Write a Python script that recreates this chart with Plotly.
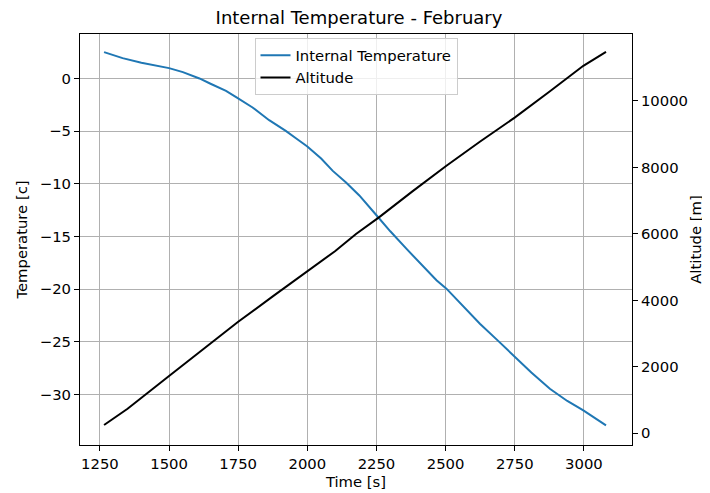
import plotly.graph_objects as go

# Internal temperature readings (time [s], temperature [c])
temp_time = [1265, 1300, 1332, 1400, 1450, 1500, 1550, 1610, 1650, 1706, 1744, 1802,
             1862, 1922, 1960, 2000, 2050, 2092, 2140, 2188, 2250, 2300, 2358, 2410,
             2467, 2503, 2560, 2624, 2690, 2751, 2810, 2877, 2940, 2998, 3040, 3080]
temp_vals = [2.5, 2.2, 1.93, 1.5, 1.25, 0.98, 0.6, 0.0, -0.5, -1.18, -1.8, -2.75,
             -3.96, -4.97, -5.7, -6.46, -7.6, -8.77, -9.87, -11.1, -12.98, -14.5, -16.15, -17.6,
             -19.15, -19.94, -21.5, -23.27, -24.9, -26.43, -27.9, -29.44, -30.6, -31.5, -32.2, -32.92]

# Altitude readings (time [s], altitude [m])
alt_time = [1265, 1350, 1500, 1625, 1750, 1875, 2000, 2100, 2176, 2259, 2380, 2503,
            2625, 2751, 2875, 2998, 3080]
alt_vals = [250, 740, 1724, 2550, 3357, 4120, 4862, 5480, 5996, 6498, 7280, 8051,
            8780, 9507, 10280, 11059, 11480]

x_ticks = [1250, 1500, 1750, 2000, 2250, 2500, 2750, 3000]
y_ticks = [0, -5, -10, -15, -20, -25, -30]
y2_ticks = [0, 2000, 4000, 6000, 8000, 10000]
y2_labels = ["0", "2000", "4000", "6000", "8000", "10000"]

FONT = "DejaVu Sans"
FS = 14.8

fig = go.Figure()
fig.add_trace(go.Scatter(x=temp_time, y=temp_vals, mode="lines", name="Internal Temperature",
                         line=dict(color="#1f77b4", width=2), yaxis="y"))
fig.add_trace(go.Scatter(x=alt_time, y=alt_vals, mode="lines", name="Altitude",
                         line=dict(color="black", width=2), yaxis="y2"))

axis_common = dict(showline=True, linecolor="black", linewidth=1, ticks="outside",
                   ticklen=5, tickcolor="black", tickfont=dict(family=FONT, size=FS, color="black"),
                   zeroline=False, automargin=False)

# page body adds an 8px offset; figure is sized to fill the remaining window
fig.update_layout(
    width=702, height=485,
    margin=dict(l=72, r=78, t=26, b=48),
    paper_bgcolor="white", plot_bgcolor="white",
    font=dict(family=FONT, color="black"),
    title=dict(text="Internal Temperature - February", x=0.5, xanchor="center",
               y=1 - 10 / 485, yanchor="middle", font=dict(family=FONT, size=18, color="black")),
    xaxis=dict(range=[1178, 3174], tickvals=x_ticks, mirror=True,
               showgrid=True, gridcolor="#b0b0b0", gridwidth=1,
               title=dict(text="Time [s]", font=dict(family=FONT, size=FS), standoff=5),
               **axis_common),
    yaxis=dict(range=[-34.78, 4.22], tickvals=y_ticks, mirror=True,
               showgrid=True, gridcolor="#b0b0b0", gridwidth=1,
               title=dict(text="Temperature [c]", font=dict(family=FONT, size=FS), standoff=8),
               **axis_common),
    yaxis2=dict(range=[-352, 12016], tickvals=y2_ticks, ticktext=y2_labels,
                overlaying="y", side="right", showgrid=False,
                title=dict(text="Altitude [m]", font=dict(family=FONT, size=FS), standoff=3),
                **axis_common),
    legend=dict(x=0.5, xanchor="center", y=0.99, yanchor="top",
                bgcolor="rgba(255,255,255,0.8)", bordercolor="#cccccc", borderwidth=1,
                font=dict(family=FONT, size=FS, color="black"), tracegroupgap=0),
    showlegend=True,
)

fig.write_html("out.html")
